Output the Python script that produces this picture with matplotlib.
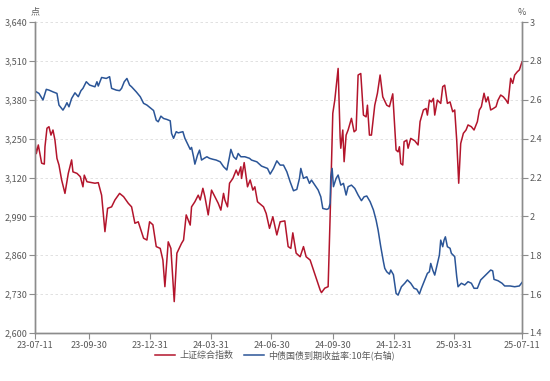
import matplotlib
matplotlib.use("Agg")
import matplotlib.pyplot as plt
import pandas as pd

plt.rcParams['font.family'] = ['Noto Sans CJK SC', 'DejaVu Sans']

# --- data ---
sh_dates = [
    "2023-07-11", "2023-07-13", "2023-07-16", "2023-07-21", "2023-07-25", "2023-07-26", "2023-07-29",
    "2023-08-01", "2023-08-04", "2023-08-07", "2023-08-10", "2023-08-13", "2023-08-16", "2023-08-20",
    "2023-08-25", "2023-08-30", "2023-09-04", "2023-09-06", "2023-09-12", "2023-09-17", "2023-09-21",
    "2023-09-23", "2023-09-27", "2023-10-09", "2023-10-14", "2023-10-17", "2023-10-19", "2023-10-22",
    "2023-10-24", "2023-10-28", "2023-11-03", "2023-11-08", "2023-11-15", "2023-11-21", "2023-11-28",
    "2023-12-03", "2023-12-08", "2023-12-13", "2023-12-17", "2023-12-21", "2023-12-26", "2023-12-30",
    "2024-01-04", "2024-01-09", "2024-01-15", "2024-01-19", "2024-01-22", "2024-01-27", "2024-01-31",
    "2024-02-05", "2024-02-09", "2024-02-16", "2024-02-19", "2024-02-23", "2024-02-26", "2024-02-29",
    "2024-03-02", "2024-03-07", "2024-03-12", "2024-03-15", "2024-03-19", "2024-03-22", "2024-03-27",
    "2024-04-01", "2024-04-06", "2024-04-11", "2024-04-15", "2024-04-19", "2024-04-21", "2024-04-25",
    "2024-04-28", "2024-05-03", "2024-05-08", "2024-05-11", "2024-05-15", "2024-05-16", "2024-05-20",
    "2024-05-25", "2024-05-29", "2024-06-02", "2024-06-05", "2024-06-09", "2024-06-18", "2024-06-22",
    "2024-06-27", "2024-07-02", "2024-07-08", "2024-07-13", "2024-07-20", "2024-07-25", "2024-07-29",
    "2024-08-01", "2024-08-06", "2024-08-12", "2024-08-17", "2024-08-21", "2024-08-27", "2024-09-01",
    "2024-09-06", "2024-09-11", "2024-09-13", "2024-09-18", "2024-09-23", "2024-09-26", "2024-09-30",
    "2024-10-03", "2024-10-08", "2024-10-11", "2024-10-12", "2024-10-15", "2024-10-17", "2024-10-20",
    "2024-10-23", "2024-10-28", "2024-11-01", "2024-11-04", "2024-11-07", "2024-11-11", "2024-11-15",
    "2024-11-19", "2024-11-21", "2024-11-24", "2024-11-27", "2024-12-02", "2024-12-06", "2024-12-10",
    "2024-12-14", "2024-12-20", "2024-12-24", "2024-12-29", "2025-01-03", "2025-01-06", "2025-01-08",
    "2025-01-10", "2025-01-13", "2025-01-15", "2025-01-19", "2025-01-21", "2025-01-25", "2025-01-31",
    "2025-02-05", "2025-02-08", "2025-02-13", "2025-02-17", "2025-02-19", "2025-02-22", "2025-02-25",
    "2025-02-28", "2025-03-02", "2025-03-06", "2025-03-11", "2025-03-14", "2025-03-17", "2025-03-21",
    "2025-03-25", "2025-03-29", "2025-04-01", "2025-04-04", "2025-04-07", "2025-04-10", "2025-04-14",
    "2025-04-18", "2025-04-21", "2025-04-26", "2025-04-30", "2025-05-05", "2025-05-08", "2025-05-11",
    "2025-05-15", "2025-05-18", "2025-05-21", "2025-05-25", "2025-05-29", "2025-06-02", "2025-06-05",
    "2025-06-09", "2025-06-13", "2025-06-17", "2025-06-20", "2025-06-24", "2025-06-27", "2025-06-30",
    "2025-07-04", "2025-07-07", "2025-07-11",
]
sh_index = [
    3236, 3200, 3229, 3168, 3165, 3223, 3285,
    3290, 3262, 3279, 3245, 3184, 3162, 3112,
    3067, 3134, 3179, 3139, 3134, 3123, 3089,
    3128, 3106, 3101, 3103, 3078, 3061, 2989,
    2939, 3017, 3022, 3045, 3067, 3056, 3034,
    3022, 2967, 2972, 2944, 2917, 2911, 2972,
    2962, 2889, 2883, 2844, 2755, 2905, 2883,
    2705, 2867, 2900, 2911, 2995, 2978, 2961,
    3022, 3039, 3061, 3045, 3084, 3056, 2995,
    3078, 3056, 3034, 3011, 3067, 3045, 3022,
    3101, 3117, 3145, 3128, 3156, 3117, 3170,
    3089, 3112, 3078, 3089, 3039, 3022, 3000,
    2950, 2989, 2928, 2972, 2975, 2889, 2883,
    2935, 2867, 2855, 2889, 2855, 2844, 2811,
    2777, 2744, 2735, 2750, 2755, 2989, 3335,
    3379, 3485, 3256, 3218, 3279, 3173, 3262,
    3279, 3318, 3273, 3279, 3463, 3468, 3329,
    3323, 3362, 3262, 3262, 3362, 3402, 3463,
    3390, 3362, 3357, 3400, 3212, 3206, 3223,
    3167, 3162, 3240, 3245, 3218, 3251, 3243,
    3229, 3307, 3346, 3351, 3329, 3379, 3373,
    3385, 3329, 3379, 3368, 3424, 3429, 3368,
    3373, 3340, 3346, 3245, 3101, 3234, 3268,
    3279, 3296, 3290, 3279, 3307, 3346, 3357,
    3402, 3373, 3390, 3346, 3351, 3357, 3379,
    3396, 3390, 3379, 3368, 3452, 3435, 3463,
    3474, 3480, 3507,
]

bond_dates = [
    "2023-07-11", "2023-07-13", "2023-07-17", "2023-07-23", "2023-07-28", "2023-08-01", "2023-08-07",
    "2023-08-13", "2023-08-16", "2023-08-22", "2023-08-25", "2023-08-28", "2023-08-31", "2023-09-04",
    "2023-09-09", "2023-09-14", "2023-09-18", "2023-09-21", "2023-09-26", "2023-10-01", "2023-10-09",
    "2023-10-12", "2023-10-14", "2023-10-19", "2023-10-26", "2023-10-31", "2023-11-03", "2023-11-10",
    "2023-11-15", "2023-11-18", "2023-11-22", "2023-11-26", "2023-11-30", "2023-12-03", "2023-12-10",
    "2023-12-16", "2023-12-21", "2023-12-26", "2024-01-01", "2024-01-05", "2024-01-09", "2024-01-12",
    "2024-01-16", "2024-01-20", "2024-01-25", "2024-01-30", "2024-02-01", "2024-02-04", "2024-02-08",
    "2024-02-11", "2024-02-18", "2024-02-21", "2024-02-26", "2024-02-29", "2024-03-02", "2024-03-05",
    "2024-03-07", "2024-03-11", "2024-03-14", "2024-03-17", "2024-03-21", "2024-03-25", "2024-03-29",
    "2024-04-03", "2024-04-08", "2024-04-14", "2024-04-19", "2024-04-24", "2024-04-28", "2024-04-30",
    "2024-05-04", "2024-05-08", "2024-05-11", "2024-05-15", "2024-05-21", "2024-05-28", "2024-05-31",
    "2024-06-08", "2024-06-15", "2024-06-20", "2024-06-24", "2024-06-28", "2024-07-03", "2024-07-08",
    "2024-07-13", "2024-07-18", "2024-07-23", "2024-07-28", "2024-08-02", "2024-08-07", "2024-08-11",
    "2024-08-13", "2024-08-17", "2024-08-22", "2024-08-26", "2024-08-29", "2024-09-03", "2024-09-08",
    "2024-09-12", "2024-09-15", "2024-09-21", "2024-09-24", "2024-09-26", "2024-09-27", "2024-09-29",
    "2024-10-01", "2024-10-05", "2024-10-08", "2024-10-12", "2024-10-16", "2024-10-20", "2024-10-23",
    "2024-10-28", "2024-11-02", "2024-11-07", "2024-11-12", "2024-11-16", "2024-11-20", "2024-11-25",
    "2024-11-30", "2024-12-04", "2024-12-07", "2024-12-11", "2024-12-15", "2024-12-17", "2024-12-20",
    "2024-12-24", "2024-12-26", "2024-12-30", "2025-01-03", "2025-01-06", "2025-01-11", "2025-01-16",
    "2025-01-20", "2025-01-25", "2025-01-30", "2025-02-03", "2025-02-07", "2025-02-10", "2025-02-15",
    "2025-02-19", "2025-02-22", "2025-02-24", "2025-02-27", "2025-03-02", "2025-03-06", "2025-03-09",
    "2025-03-11", "2025-03-14", "2025-03-16", "2025-03-18", "2025-03-21", "2025-03-25", "2025-03-27",
    "2025-04-01", "2025-04-04", "2025-04-06", "2025-04-11", "2025-04-16", "2025-04-21", "2025-04-26",
    "2025-04-30", "2025-05-05", "2025-05-10", "2025-05-15", "2025-05-20", "2025-05-25", "2025-05-28",
    "2025-05-30", "2025-06-05", "2025-06-11", "2025-06-15", "2025-06-23", "2025-06-30", "2025-07-07",
    "2025-07-11",
]
bond_yield = [
    2.645, 2.641, 2.633, 2.599, 2.654, 2.650, 2.641,
    2.633, 2.573, 2.547, 2.564, 2.585, 2.564, 2.607,
    2.636, 2.616, 2.647, 2.659, 2.693, 2.676, 2.667,
    2.693, 2.671, 2.715, 2.710, 2.719, 2.659, 2.650,
    2.647, 2.659, 2.693, 2.710, 2.676, 2.667, 2.641,
    2.616, 2.582, 2.573, 2.556, 2.545, 2.495, 2.487,
    2.516, 2.504, 2.499, 2.492, 2.427, 2.402, 2.436,
    2.430, 2.436, 2.402, 2.367, 2.345, 2.355, 2.307,
    2.269, 2.316, 2.341, 2.290, 2.299, 2.307, 2.299,
    2.294, 2.290, 2.281, 2.256, 2.239, 2.307, 2.345,
    2.307, 2.294, 2.324, 2.307, 2.307, 2.299, 2.290,
    2.281, 2.259, 2.252, 2.247, 2.218, 2.247, 2.286,
    2.264, 2.264, 2.230, 2.178, 2.132, 2.139, 2.196,
    2.247, 2.196, 2.204, 2.170, 2.187, 2.161, 2.136,
    2.101, 2.041, 2.036, 2.041, 2.067, 2.204, 2.247,
    2.153, 2.196, 2.213, 2.161, 2.170, 2.110, 2.153,
    2.161, 2.144, 2.110, 2.081, 2.101, 2.105, 2.076,
    2.033, 1.981, 1.930, 1.844, 1.767, 1.733, 1.715,
    1.703, 1.724, 1.700, 1.604, 1.595, 1.638, 1.656,
    1.673, 1.656, 1.630, 1.625, 1.601, 1.630, 1.673,
    1.707, 1.715, 1.758, 1.724, 1.698, 1.758, 1.801,
    1.878, 1.844, 1.878, 1.895, 1.844, 1.836, 1.810,
    1.793, 1.690, 1.638, 1.656, 1.647, 1.664, 1.656,
    1.630, 1.630, 1.673, 1.690, 1.707, 1.724, 1.720,
    1.676, 1.669, 1.656, 1.642, 1.642, 1.638, 1.642,
    1.660,
]

tick_dates = ["2023-07-11", "2023-09-30", "2023-12-31", "2024-03-31", "2024-06-30",
              "2024-09-30", "2024-12-31", "2025-03-31", "2025-07-11"]
tick_labels = ["23-07-11", "23-09-30", "23-12-31", "24-03-31", "24-06-30",
               "24-09-30", "24-12-31", "25-03-31", "25-07-11"]
left_ticks = [2600, 2730, 2860, 2990, 3120, 3250, 3380, 3510, 3640]
right_ticks = [1.4, 1.6, 1.8, 2, 2.2, 2.4, 2.6, 2.8, 3]

RED = "#b3152c"
BLUE = "#2b5597"
AXC = "#8c8c8c"
TXT = "#595959"

# --- plot ---
fig = plt.figure(figsize=(5.5, 3.81), dpi=100)
ax = fig.add_axes([0.0636, 0.126, 0.8855, 0.816])
ax2 = ax.twinx()

l1, = ax.plot(pd.to_datetime(sh_dates), sh_index, color=RED, lw=1.1, label="上证综合指数")
l2, = ax2.plot(pd.to_datetime(bond_dates), bond_yield, color=BLUE, lw=1.1,
               label="中债国债到期收益率:10年(右轴)")

ax.set_xlim(pd.Timestamp("2023-07-11"), pd.Timestamp("2025-07-11"))
ax.set_ylim(2600, 3640)
ax2.set_ylim(1.4, 3.0)

ax.set_yticks(left_ticks)
ax.set_yticklabels([f"{v:,}" for v in left_ticks])
ax2.set_yticks(right_ticks)
ax2.set_yticklabels([f"{v:g}" for v in right_ticks])
ax.set_xticks(pd.to_datetime(tick_dates))
ax.set_xticklabels(tick_labels)

ax.grid(axis="y", color="#dcdcdc", linestyle=(0, (3, 3)), linewidth=0.6)
ax.set_axisbelow(True)

for a in (ax, ax2):
    a.spines["top"].set_visible(False)
    for s in ("left", "right", "bottom"):
        a.spines[s].set_color(AXC)
        a.spines[s].set_linewidth(1.0)
    a.tick_params(colors=AXC, labelcolor=TXT, labelsize=6.5, length=4, width=0.8, pad=1.5)

ax.text(0, 1.018, "点", transform=ax.transAxes, ha="center", va="bottom", fontsize=6.5, color=TXT)
ax2.text(1, 1.018, "%", transform=ax2.transAxes, ha="center", va="bottom", fontsize=6.5, color=TXT)

fig.legend(handles=[l1, l2], loc="center", bbox_to_anchor=(0.5, 0.068), ncol=2, frameon=False,
           fontsize=6.5, handlelength=2.2, columnspacing=1.2, handletextpad=0.5, labelcolor=TXT)

fig.savefig("out.png", dpi=100)
